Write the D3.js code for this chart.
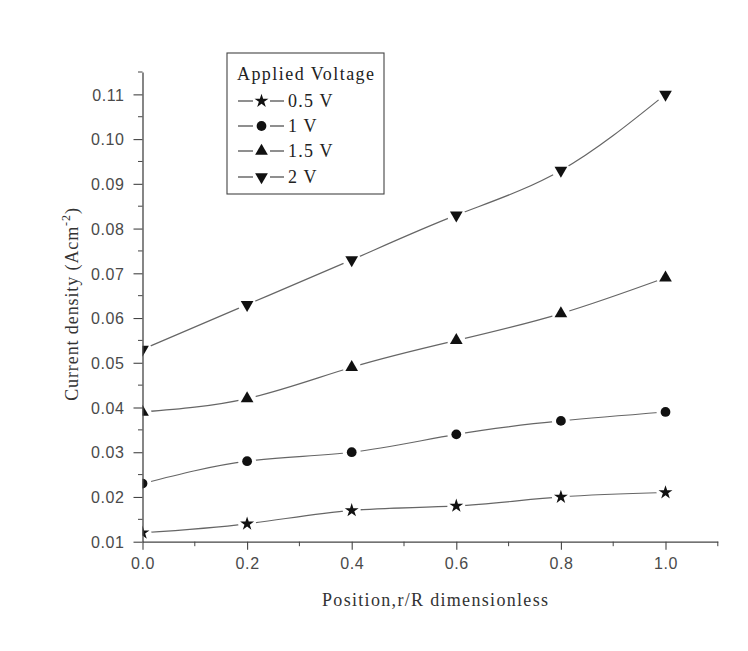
<!DOCTYPE html>
<html>
<head>
<meta charset="utf-8">
<script src="https://cdn.jsdelivr.net/npm/d3@7"></script>
<style>
  body { margin: 0; background: #fff; }
  svg { display: block; }
</style>
</head>
<body>
<div id="chart"></div>
<script>
// Position r/R values
var positions = [0.0, 0.2, 0.4, 0.6, 0.8, 1.0];

// Current density for each applied voltage
var series05 = [0.012, 0.014, 0.017, 0.018, 0.020, 0.021];
var series1 = [0.023, 0.028, 0.030, 0.034, 0.037, 0.039];
var series15 = [0.039, 0.042, 0.049, 0.055, 0.061, 0.069];
var series2 = [0.053, 0.063, 0.073, 0.083, 0.093, 0.110];

var seriesNames = ['0.5 V', '1 V', '1.5 V', '2 V'];
var xTicks = [0.0, 0.2, 0.4, 0.6, 0.8, 1.0];
var yTicks = [0.01, 0.02, 0.03, 0.04, 0.05, 0.06, 0.07, 0.08, 0.09, 0.10, 0.11];

var width = 748, height = 651;
var pLeft = 142.5, pRight = 717.8, pTop = 72, pBottom = 541.7;

var svg = d3.select('#chart')
    .append('svg')
    .attr('width', width)
    .attr('height', height);

var x = d3.scaleLinear().domain([0, 1.1]).range([pLeft, pRight]);
var y = d3.scaleLinear().domain([0.01, 0.115]).range([pBottom, pTop]);

svg.append('clipPath').attr('id', 'plotclip')
    .append('rect')
    .attr('x', pLeft).attr('y', pTop - 20)
    .attr('width', pRight - pLeft + 20).attr('height', pBottom - pTop + 20);

var star = d3.symbol().type(d3.symbolStar).size(60);
var circle = d3.symbol().type(d3.symbolCircle).size(75);
var tri = d3.symbol().type(d3.symbolTriangle).size(70);
var shapes = [
  { path: star(), rot: 0 },
  { path: circle(), rot: 0 },
  { path: tri(), rot: 0 },
  { path: tri(), rot: 180 }
];

var allSeries = [series05, series1, series15, series2];

var line = d3.line()
    .x(function (d, i) { return x(positions[i]); })
    .y(function (d) { return y(d); })
    .curve(d3.curveNatural);

var plot = svg.append('g').attr('clip-path', 'url(#plotclip)');

// lines
allSeries.forEach(function (s) {
  plot.append('path')
      .datum(s)
      .attr('d', line)
      .attr('fill', 'none')
      .attr('stroke', '#666')
      .attr('stroke-width', 1.2);
});

// small white gaps round each marker, like Origin
allSeries.forEach(function (s) {
  plot.selectAll(null)
      .data(s)
      .enter()
      .append('circle')
      .attr('cx', function (d, i) { return x(positions[i]); })
      .attr('cy', function (d) { return y(d); })
      .attr('r', 9)
      .attr('fill', '#fff');
});

// markers
allSeries.forEach(function (s, k) {
  plot.selectAll(null)
      .data(s)
      .enter()
      .append('path')
      .attr('d', shapes[k].path)
      .attr('transform', function (d, i) {
        return 'translate(' + x(positions[i]) + ',' + y(d) + ') rotate(' + shapes[k].rot + ')';
      })
      .attr('fill', '#111');
});

// axes
var xAxis = d3.axisBottom(x)
    .tickValues(xTicks)
    .tickFormat(d3.format('.1f'))
    .tickSize(8)
    .tickSizeOuter(0);
var gx = svg.append('g')
    .attr('transform', 'translate(0,' + pBottom + ')')
    .call(xAxis);
gx.selectAll('text').attr('dy', '1.05em');

var yAxis = d3.axisLeft(y)
    .tickValues(yTicks)
    .tickFormat(d3.format('.2f'))
    .tickSize(9)
    .tickSizeOuter(0);
var gy = svg.append('g')
    .attr('transform', 'translate(' + pLeft + ',0)')
    .call(yAxis);
gy.selectAll('text').attr('x', -18).attr('dy', '0.36em');

// minor ticks
var xMinor = [0.1, 0.3, 0.5, 0.7, 0.9, 1.1];
gx.selectAll('.minor')
    .data(xMinor)
    .enter()
    .append('line')
    .attr('x1', function (d) { return x(d); })
    .attr('x2', function (d) { return x(d); })
    .attr('y1', 0).attr('y2', 4.5)
    .attr('stroke', '#444');
var yMinor = [0.015, 0.025, 0.035, 0.045, 0.055, 0.065, 0.075, 0.085, 0.095, 0.105, 0.115];
gy.selectAll('.minor')
    .data(yMinor)
    .enter()
    .append('line')
    .attr('y1', function (d) { return y(d); })
    .attr('y2', function (d) { return y(d); })
    .attr('x1', 0).attr('x2', -4.5)
    .attr('stroke', '#444');

[gx, gy].forEach(function (g) {
  g.selectAll('path.domain').attr('stroke', '#444').attr('stroke-width', 1.3);
  g.selectAll('.tick line').attr('stroke', '#444').attr('stroke-width', 1.1);
  g.selectAll('text')
      .attr('font-family', 'Liberation Sans, Arial, sans-serif')
      .attr('font-size', 16)
      .attr('letter-spacing', 0.6)
      .attr('fill', '#4a4a4a');
});

// axis titles
svg.append('text')
    .attr('x', 435)
    .attr('y', 606)
    .attr('text-anchor', 'middle')
    .attr('font-family', 'Liberation Serif, Times New Roman, serif')
    .attr('font-size', 18)
    .attr('textLength', 226)
    .attr('lengthAdjust', 'spacing')
    .attr('fill', '#333')
    .text('Position,r/R dimensionless');

var yt = svg.append('text')
    .attr('transform', 'translate(78,304) rotate(-90)')
    .attr('text-anchor', 'middle')
    .attr('font-family', 'Liberation Serif, Times New Roman, serif')
    .attr('font-size', 18)
    .attr('letter-spacing', 0.9)
    .attr('fill', '#333');
yt.append('tspan').text('Current density (Acm');
yt.append('tspan').attr('font-size', 12).attr('dy', -8).text('-2');
yt.append('tspan').attr('dy', 8).text(')');

// legend
var legend = svg.append('g');
legend.append('rect')
    .attr('x', 227).attr('y', 53)
    .attr('width', 157).attr('height', 141)
    .attr('fill', '#fff')
    .attr('stroke', '#444')
    .attr('stroke-width', 1.1);
legend.append('text')
    .attr('x', 237).attr('y', 80)
    .attr('font-family', 'Liberation Serif, Times New Roman, serif')
    .attr('font-size', 18)
    .attr('textLength', 137)
    .attr('lengthAdjust', 'spacing')
    .attr('fill', '#222')
    .text('Applied Voltage');

var rowY = [101, 126, 151, 177];
seriesNames.forEach(function (name, k) {
  var ry = rowY[k];
  legend.append('line')
      .attr('x1', 238).attr('x2', 253).attr('y1', ry).attr('y2', ry)
      .attr('stroke', '#333').attr('stroke-width', 1.1);
  legend.append('line')
      .attr('x1', 270).attr('x2', 284).attr('y1', ry).attr('y2', ry)
      .attr('stroke', '#333').attr('stroke-width', 1.1);
  legend.append('path')
      .attr('d', shapes[k].path)
      .attr('transform', 'translate(261.5,' + ry + ') rotate(' + shapes[k].rot + ')')
      .attr('fill', '#111');
  legend.append('text')
      .attr('x', 288).attr('y', ry + 6)
      .attr('font-family', 'Liberation Serif, Times New Roman, serif')
      .attr('font-size', 18)
      .attr('letter-spacing', 1.2)
      .attr('fill', '#222')
      .text(name);
});
</script>
</body>
</html>
